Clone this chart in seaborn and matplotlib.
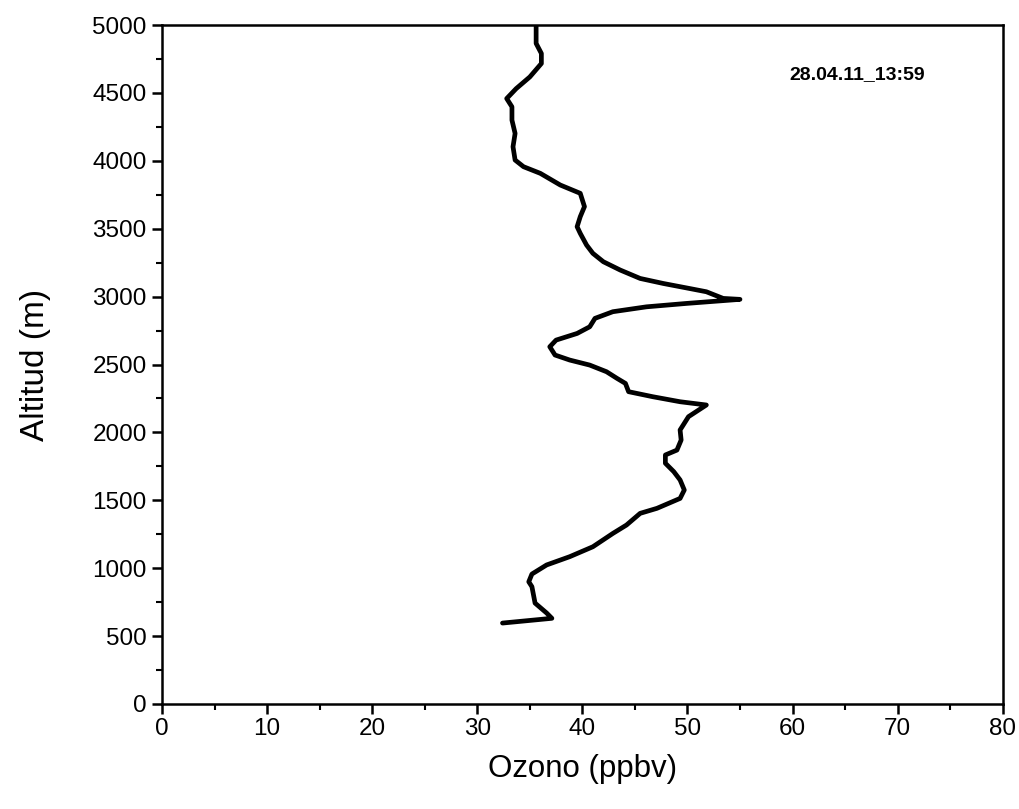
import matplotlib
matplotlib.use("Agg")
import matplotlib.pyplot as plt
import seaborn as sns
import pandas as pd
from matplotlib.ticker import MultipleLocator

ozone = [32.4, 37.1, 36.6, 35.5, 35.2, 34.9, 35.2, 36.6, 38.8, 41.0, 42.9, 44.2, 45.5, 47.1,
         49.3, 49.7, 49.3, 48.7, 47.9, 47.9, 49.0, 49.4, 49.3, 50.1, 51.8, 49.3, 46.7, 44.4,
         44.1, 43.3, 42.3, 40.7, 38.8, 37.4, 36.9, 37.5, 39.5, 40.7, 41.2, 42.9, 46.1, 49.9,
         55.0, 53.4, 51.8, 50.2, 47.7, 45.5, 43.6, 42.0, 41.0, 40.4, 39.8, 39.5, 39.8, 40.2,
         39.8, 37.9, 36.0, 34.4, 33.6, 33.4, 33.6, 33.3, 33.3, 32.8, 33.7, 35.0, 36.1, 36.1,
         35.6, 35.6, 35.6]
altitude = [596, 631, 670, 743, 864, 900, 957, 1024, 1085, 1158, 1256, 1318, 1404, 1441,
            1514, 1576, 1650, 1711, 1773, 1834, 1870, 1944, 2018, 2116, 2202, 2226, 2263, 2300,
            2361, 2398, 2447, 2496, 2533, 2570, 2631, 2680, 2729, 2778, 2840, 2889, 2925, 2950,
            2980, 2987, 3036, 3060, 3097, 3134, 3196, 3257, 3319, 3380, 3466, 3515, 3589, 3663,
            3761, 3822, 3908, 3957, 4006, 4104, 4202, 4300, 4398, 4459, 4532, 4618, 4717, 4791,
            4865, 4963, 5000]
x_ticks = [0, 10, 20, 30, 40, 50, 60, 70, 80]
y_ticks = [0, 500, 1000, 1500, 2000, 2500, 3000, 3500, 4000, 4500, 5000]
label_text = "28.04.11_13:59"

sns.set_style("ticks")
plt.rcParams['font.family'] = ['Liberation Sans', 'DejaVu Sans']
plt.rcParams['text.color'] = 'black'
plt.rcParams['axes.labelcolor'] = 'black'
plt.rcParams['xtick.color'] = 'black'
plt.rcParams['ytick.color'] = 'black'

df = pd.DataFrame({"Ozono": ozone, "Altitud": altitude})

fig = plt.figure(figsize=(10.19, 8.09), dpi=100)
ax = fig.add_axes([0.159, 0.1298, 0.825, 0.8392])
sns.lineplot(data=df, x="Ozono", y="Altitud", sort=False, estimator=None, orient="y",
             color="black", lw=3.4, ax=ax)

ax.set_xlim(0, 80)
ax.set_ylim(0, 5000)
ax.set_xticks(x_ticks)
ax.set_yticks(y_ticks)
ax.xaxis.set_minor_locator(MultipleLocator(5))
ax.yaxis.set_minor_locator(MultipleLocator(250))
ax.tick_params(which="major", direction="out", length=7, width=1.8, labelsize=17.5,
               colors="black", pad=4)
ax.tick_params(axis="x", which="major", pad=3)
ax.tick_params(which="minor", direction="out", length=4, width=1.5)
ax.tick_params(top=False, right=False)
for s in ax.spines.values():
    s.set_linewidth(1.8)
    s.set_color("black")
    s.set_visible(True)

ax.set_xlabel("Ozono (ppbv)", fontsize=22.5, labelpad=10)
ax.set_ylabel("Altitud (m)", fontsize=24, labelpad=30)
ax.text(66.2, 4632, label_text, fontsize=14, fontweight="bold", ha="center", va="center")

fig.savefig("out.png", dpi=100)
